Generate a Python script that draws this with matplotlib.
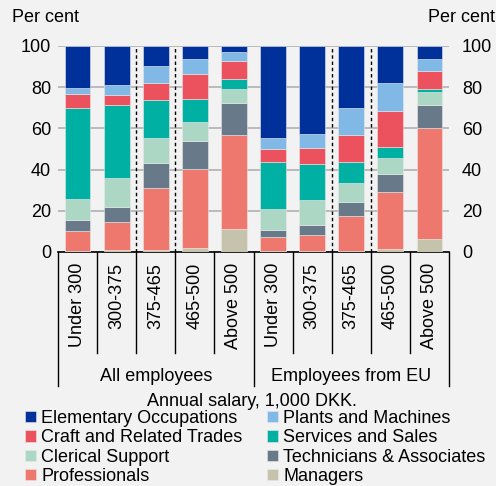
import numpy as np
import matplotlib.pyplot as plt

plt.rcParams['font.family'] = ['Liberation Sans', 'DejaVu Sans']

groups = ['All employees', 'Employees from EU']
brackets = ['Under 300', '300-375', '375-465', '465-500', 'Above 500']

occupations = ['Managers', 'Professionals', 'Technicians & Associates',
               'Clerical Support', 'Services and Sales',
               'Craft and Related Trades', 'Plants and Machines',
               'Elementary Occupations']
colors = ['#c5c3ab', '#ef786e', '#687a8a', '#acd7c5', '#00b0a2',
          '#eb525d', '#80b9e5', '#00309a']

# shares per occupation, 10 bars: All employees (5) then Employees from EU (5)
managers = [0.5, 1.0, 1.0, 2.1, 11.0, 0.3, 0.5, 0.5, 1.3, 6.2]
professionals = [9.7, 13.6, 30.3, 38.4, 45.7, 6.8, 7.6, 17.0, 27.9, 53.9]
technicians = [5.2, 7.3, 12.1, 13.6, 15.6, 3.8, 4.9, 6.6, 8.6, 11.2]
clerical = [10.2, 13.8, 11.7, 8.9, 6.6, 9.8, 12.0, 9.6, 7.7, 6.2]
services = [44.1, 35.9, 18.8, 11.1, 5.1, 23.2, 17.8, 9.9, 5.7, 1.4]
craft = [7.1, 4.6, 8.3, 12.4, 8.9, 6.0, 7.8, 13.1, 17.2, 8.8]
plants = [2.9, 5.0, 8.1, 7.3, 4.0, 5.5, 6.8, 13.0, 13.6, 6.0]
elementary = [20.3, 18.8, 9.7, 6.2, 3.1, 44.6, 42.6, 30.3, 18.0, 6.3]

series = [managers, professionals, technicians, clerical, services,
          craft, plants, elementary]

bg = '#f2f2f2'
fig = plt.figure(figsize=(4.96, 4.86), dpi=100, facecolor=bg)
ax = fig.add_axes([58 / 496, 1 - 252 / 486, 391 / 496, 206 / 486], facecolor=bg)

x = np.arange(10)
bottom = np.zeros(10)
handles = {}
for name, vals, col in zip(occupations, series, colors):
    vals = np.array(vals)
    b = ax.bar(x, vals, bottom=bottom, width=0.66, color=col,
               edgecolor='#e8e8e8', linewidth=0.4, zorder=3)
    handles[name] = b
    bottom += vals

ax.set_xlim(-0.5, 9.5)
ax.set_ylim(0, 100)
ax.set_yticks([0, 20, 40, 60, 80, 100])
ax.grid(axis='y', color='#b0b0b0', linewidth=1.2, zorder=0)
for s in ['left', 'right', 'top']:
    ax.spines[s].set_visible(False)
ax.spines['bottom'].set_linewidth(1.2)
ax.tick_params(axis='y', length=0, labelsize=13, pad=5,
               labelright=True, right=False)
for t in ax.yaxis.get_major_ticks():
    t.label2.set_horizontalalignment('left')
    t.label2.set_x(1.015)
ax.set_xticks([])

# dashed separators between brackets
for g in range(2):
    for k in (1.5, 2.5):
        ax.axvline(g * 5 + k, color='black', linestyle=(0, (2.5, 2)),
                   linewidth=1.0, zorder=4)

trans = ax.get_xaxis_transform()
h = 206.0
for i in range(11):
    pos = i - 0.5
    bottom_y = -134 / h if i in (0, 5, 10) else -101 / h
    ax.plot([pos, pos], [0, bottom_y], color='black', linewidth=1.0,
            transform=trans, clip_on=False)
for i in range(10):
    ax.text(i, -11 / h, brackets[i % 5], rotation=90, ha='center', va='top',
            fontsize=13, transform=trans)
for g, name in enumerate(groups):
    ax.text(g * 5 + 2, -124 / h, name, ha='center', va='center',
            fontsize=13, transform=trans)

fig.text(46 / 496, 1 - 17 / 486, 'Per cent', ha='center', va='center', fontsize=13)
fig.text(461 / 496, 1 - 17 / 486, 'Per cent', ha='center', va='center', fontsize=13)
fig.text(252 / 496, 1 - 401 / 486, 'Annual salary, 1,000 DKK.', ha='center',
         va='center', fontsize=13)

order = ['Elementary Occupations', 'Plants and Machines',
         'Craft and Related Trades', 'Services and Sales',
         'Clerical Support', 'Technicians & Associates',
         'Professionals', 'Managers']
# legend fills columns first, so reorder to read row-wise
leg_order = order[0::2] + order[1::2]
leg = fig.legend([handles[n] for n in leg_order], leg_order, ncol=2,
                 loc='upper left', bbox_to_anchor=(25 / 496, 1 - 410 / 486),
                 frameon=False, fontsize=13, handlelength=0.6,
                 handleheight=0.6, handletextpad=0.3, columnspacing=1.35,
                 labelspacing=0.13, borderaxespad=0, borderpad=0)

fig.savefig('out.png', dpi=100, facecolor=bg)
